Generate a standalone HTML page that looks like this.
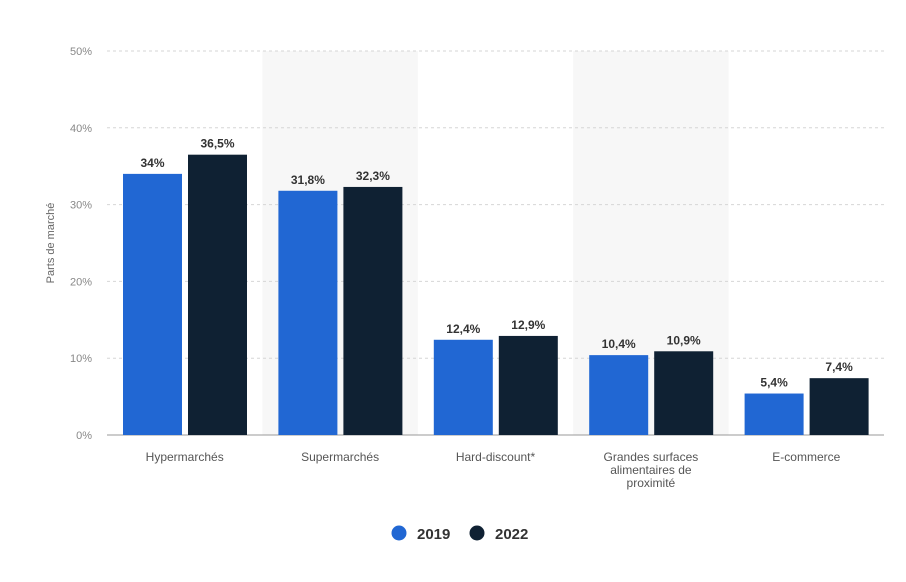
<!DOCTYPE html>
<html><head><meta charset="utf-8"><style>
body{margin:0;background:#fff;font-family:"Liberation Sans",sans-serif;}
svg text{font-family:"Liberation Sans",sans-serif;}
</style></head><body>
<svg width="906" height="577" id="c"></svg>
<script>
const categories=[["Hypermarchés"],["Supermarchés"],["Hard-discount*"],["Grandes surfaces","alimentaires de","proximité"],["E-commerce"]];
const values2019=[34,31.8,12.4,10.4,5.4];
const values2022=[36.5,32.3,12.9,10.9,7.4];
const labels2019=["34%","31,8%","12,4%","10,4%","5,4%"];
const labels2022=["36,5%","32,3%","12,9%","10,9%","7,4%"];
const yTicks=[0,10,20,30,40,50];
const NS="http://www.w3.org/2000/svg",svg=document.getElementById('c');
const x0=107,x1=884,y0=435,y50=51;
const bw=(x1-x0)/categories.length;
const y=v=>y0-(v/50)*(y0-y50);
function el(t,a,txt){const e=document.createElementNS(NS,t);for(const k in a)e.setAttribute(k,a[k]);if(txt!==undefined)e.textContent=txt;svg.appendChild(e);return e;}
categories.forEach((c,i)=>{if(i%2==1){const r=el('rect',{x:x0+i*bw,y:y50,width:bw,height:y0-y50,fill:'#f7f7f7'});

}});
yTicks.forEach(t=>{
const l=el('line',{x1:x0,x2:x1,y1:y(t),y2:y(t),stroke:t==0?'#999':'#d6d6d6','stroke-dasharray':t==0?'':'3,3','stroke-width':1});


const tx=el('text',{x:92,y:y(t)+4,'text-anchor':'end','font-size':11,fill:'#888'},t+'%');


});
const yt=el('text',{x:0,y:0,transform:'translate(54,243) rotate(-90)','text-anchor':'middle','font-size':11,fill:'#666'},'Parts de marché');


categories.forEach((c,i)=>{
const bx=x0+i*bw;
[[values2019,labels2019,'#2167d3',16,'bar-2019'],[values2022,labels2022,'#0f2133',81,'bar-2022']].forEach(([v,lb,col,off,nm])=>{
const r=el('rect',{x:bx+off,y:y(v[i]),width:59,height:y0-y(v[i]),fill:col});


const t=el('text',{x:bx+off+29.5,y:y(v[i])-7,'text-anchor':'middle','font-size':12,'font-weight':'bold',fill:'#333'},lb[i]);


});
c.forEach((line,j)=>{
const t=el('text',{x:bx+bw/2,y:461+j*13,'text-anchor':'middle','font-size':12,fill:'#555'},line);


});
});
[[399,'#2167d3','2019'],[477,'#0f2133','2022']].forEach(([x,col,s])=>{
const c=el('circle',{cx:x,cy:533,r:7.5,fill:col});


const t=el('text',{x:x+18,y:539,'font-size':15,'font-weight':'bold',fill:'#333'},s);


});
</script>
</body></html>
